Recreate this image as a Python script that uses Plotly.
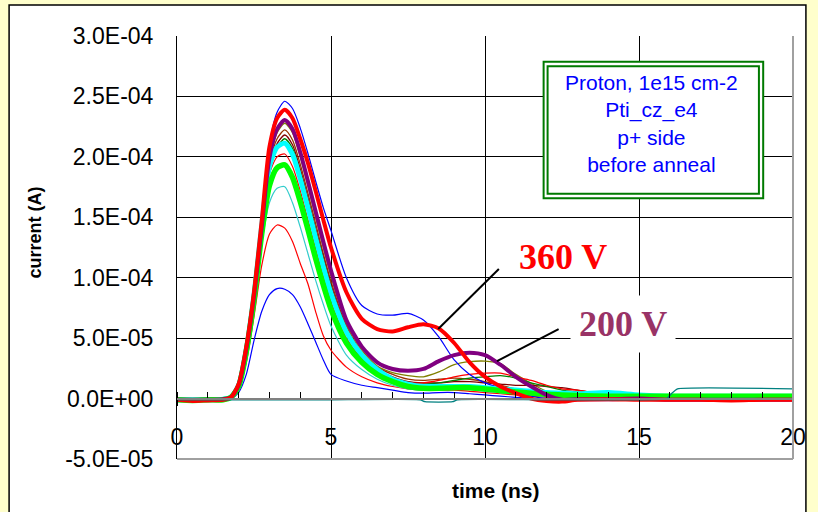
import plotly.graph_objects as go

# Time axis (ns) shared by the pulse traces
T_NS = [0, 0.5, 1, 1.5, 1.75, 2, 2.25, 2.5, 2.75, 3, 3.25, 3.5, 3.75, 4, 4.25, 4.5, 4.75, 5,
        5.5, 6, 6.5, 7, 7.5, 8, 8.5, 9, 9.5, 10, 10.5, 11, 11.5, 12, 12.5, 13,
        14, 15, 16, 17, 18, 19, 20]

# Current pulses in microamperes
I_BLUE_TOP = [-1, -1, -1, -0.5, 1, 12, 43, 90, 150, 210, 237, 246, 240, 224, 203, 180, 158, 139,
              100, 77, 70, 69, 70.5, 65, 51, 32, 20, 13, 9, 5, 2, 0, -1, -1,
              0, 0, 0, 0, 0, 0, 0]
I_360V = [-1, -2, -1.5, -1, 1, 12, 43, 88, 147, 208, 232, 239, 232, 215, 195, 172, 148, 125,
          88, 66, 57.5, 55.5, 59, 61.5, 58, 46, 30, 18, 10, 4.5, 0, -2, -2.5, -1,
          -0.5, -1, -1, -1, -1.5, -1, -1]
I_200V = [-1, -1, -1, -0.5, 1, 11, 41, 85, 142, 199, 223, 230.5, 223, 204, 180, 155, 130, 106,
          65, 43, 30, 24.5, 23, 24.5, 31, 36, 38, 36, 28, 18, 10, 3, -1, -0.5,
          -0.5, 0, -1, -1, -1, -1, -1]
I_OLIVE = [-1, -1, -1, -0.5, 1, 11, 40, 84, 140, 196, 220, 227.8, 220, 200, 176, 150, 125, 101,
           62, 40, 27, 21.5, 19, 18, 22, 28, 30.5, 31, 29, 20, 12.5, 6, 1.5, 0,
           0.5, 0.5, 0, 0, 0, 0, 0]
I_BROWN = [-1, -1, -1, -0.5, 1, 11, 40, 83, 138, 193, 215, 222.3, 214, 194, 170, 145, 120, 97,
           60, 38, 26, 20, 16, 15, 16, 17, 16, 14, 11, 8, 6, 4, 3, 2,
           1, 1, 0.5, 0.5, 0.5, 0.5, 0.5]
I_MAROON = [-1, -1, -1, -0.5, 1, 11, 40, 82, 136, 190, 211, 218.1, 210, 190, 166, 141, 117, 94,
            58, 36, 24, 18, 14, 13, 13, 14, 14, 13, 12, 11, 11, 10, 9, 7,
            3, 1, 0.5, 0.5, 0.5, 0.5, 0.5]
I_DKGREEN = [-1, -1, -1, -0.5, 1, 11, 40, 82, 135, 188, 208, 215, 207, 187, 163, 138, 114, 91,
             56, 35, 23, 17, 13, 12, 13, 15, 17, 18, 19, 17, 13, 10, 7, 5.5,
             3, 2, 2, 2, 2, 2, 2]
I_CYAN_THICK = [-1, -1, -1, -0.5, 1, 11, 41, 86, 143, 192, 208, 211.3, 202, 182, 158, 133, 109, 87,
                55, 36, 24, 16, 12, 10, 10, 10, 10, 9, 8, 7, 6, 5, 4.5, 4,
                5, 3, 2, 2, 2, 2, 2]
I_RED_THIN = [-1, -1, -1, -0.5, 1, 11, 40, 84, 140, 186, 200, 202.4, 192, 172, 148, 124, 101, 80,
              50, 33, 22, 16, 13, 13, 15, 18, 20, 21, 21, 18, 15, 11, 8, 7,
              3, 1, 0, 0, 0, 0, 0]
I_GREEN_THICK = [-1, -1.5, -1, -1, 1, 10, 39, 82, 136, 176, 191, 193.3, 183, 163, 140, 116, 94, 74,
                 46, 30, 20, 14, 10, 8.5, 8.5, 9, 9, 8, 6.5, 5.5, 4.5, 3.5, 3, 2.5,
                 2, 2, 2, 2, 2, 2, 2]
I_CYAN_THIN = [-1, -1, -1, -0.5, 1, 9, 36, 78, 128, 162, 174, 175.3, 162, 142, 120, 98, 78, 60,
               36, 24, 16, 11, 8, 7, 7.5, 8, 7.5, 6, 5, 4, 3, 2, 1.5, 1,
               1, 1, 1, 1, 1, 1, 1]
I_RED_LOW = [-1, -1, -1, -0.5, 0.5, 8, 30, 68, 110, 136, 143.6, 141, 130, 112, 95, 72, 52, 40,
             26, 18, 13, 10, 8, 7, 7, 7, 6, 5, 4, 3, 2, 1, 0.5, 0,
             0, 0, 0, 0, 0, 0, 0]
I_BLUE_LOW = [-1, -1, -1, -0.5, 0, 5, 20, 48, 72, 86, 91, 90.5, 86, 76, 62, 47, 32, 20,
              14.5, 11, 9, 7, 5, 4.5, 5, 5, 4, 3, 2, 1, 0, -1, -1, -1,
              -0.5, 0, 0, 0, 0, 0, 0]

# Near-zero baseline trace with its own sampling
T_TEAL = [0, 2.5, 5, 7.9, 8.05, 8.95, 9.1, 12, 15.9, 16.05, 16.25, 20]
I_TEAL = [-1, -1, -1, -1, -2.6, -2.6, -1, -1, 0, 4, 8, 8]

Y_TICKS = [-5e-5, 0, 5e-5, 1e-4, 1.5e-4, 2e-4, 2.5e-4, 3e-4]
Y_TICK_TEXT = ["-5.0E-05", "0.0E+00", "5.0E-05", "1.0E-04", "1.5E-04", "2.0E-04", "2.5E-04", "3.0E-04"]
X_TICKS = [0, 5, 10, 15, 20]

INFO_LINES = ["Proton, 1e15 cm-2", "Pti_cz_e4", "p+ side", "before anneal"]

UA = 1e-6  # microampere -> ampere

# (values, colour, width) in drawing order
traces = [
    (I_BLUE_LOW, "#0000FF", 1.2),
    (I_RED_LOW, "#FF0000", 1.2),
    (I_CYAN_THIN, "#33CCCC", 1.2),
    (I_OLIVE, "#808000", 1.3),
    (I_BROWN, "#993300", 1.3),
    (I_MAROON, "#800000", 1.3),
    (I_DKGREEN, "#008000", 1.3),
    (I_RED_THIN, "#FF0000", 1.2),
    (I_BLUE_TOP, "#0000FF", 1.2),
    (I_CYAN_THICK, "#00FFFF", 5),
    (I_GREEN_THICK, "#00FF00", 5.5),
    (I_200V, "#800080", 4),
    (I_360V, "#FF0000", 4),
]

fig = go.Figure()
for vals, color, width in traces:
    fig.add_trace(go.Scatter(
        x=T_NS, y=[v * UA for v in vals], mode="lines",
        line=dict(color=color, width=width, shape="spline", smoothing=0.7),
        showlegend=False, hoverinfo="skip"))
fig.add_trace(go.Scatter(
    x=T_TEAL, y=[v * UA for v in I_TEAL], mode="lines",
    line=dict(color="#008080", width=1.3, shape="spline", smoothing=0.4),
    showlegend=False, hoverinfo="skip"))

W, H = 818, 512
ML, MR, MT, MB = 177, 21, 36, 53
PW, PH = W - ML - MR, H - MT - MB


def px_x(p):
    return (p - ML) / PW


def px_y(p):
    return (H - MB - p) / PH


SANS = "Liberation Sans, Arial, sans-serif"
SERIF = "Liberation Serif, Times New Roman, serif"

shapes = [
    # white chart frame on the yellow page
    dict(type="rect", xref="paper", yref="paper", layer="below",
         x0=px_x(8), x1=px_x(810), y0=px_y(516), y1=px_y(5),
         line=dict(color="black", width=1.5), fillcolor="white"),
    # grey plot border, right and bottom
    dict(type="line", xref="paper", yref="paper", layer="above",
         x0=1, x1=1, y0=0, y1=1, line=dict(color="#A0A0A0", width=2)),
    dict(type="line", xref="paper", yref="paper", layer="above",
         x0=0, x1=1, y0=0, y1=0, line=dict(color="#A0A0A0", width=2)),
    # double green frame of the info box
    dict(type="rect", xref="paper", yref="paper", layer="above",
         x0=px_x(546), x1=px_x(767), y0=px_y(198.3), y1=px_y(61.7),
         line=dict(color="#007A00", width=2), fillcolor="white"),
    dict(type="rect", xref="paper", yref="paper", layer="above",
         x0=px_x(550), x1=px_x(762.7), y0=px_y(193.8), y1=px_y(66.3),
         line=dict(color="#007A00", width=2), fillcolor="rgba(0,0,0,0)"),
    # leader lines to the labelled pulses
    dict(type="line", xref="x", yref="y", x0=10.45, y0=1.072e-4, x1=8.48, y1=0.575e-4,
         line=dict(color="black", width=2)),
    dict(type="line", xref="x", yref="y", x0=12.39, y0=0.575e-4, x1=10.39, y1=0.31e-4,
         line=dict(color="black", width=2)),
]

annotations = [
    dict(xref="paper", yref="paper", x=px_x(655), y=px_y(123.5), xanchor="center", yanchor="middle",
         text="<br>".join(INFO_LINES), showarrow=False, align="center",
         font=dict(family=SANS, size=21, color="#0000FF")),
    dict(xref="x", yref="y", x=12.52, y=1.171e-4, text="<b>360 V</b>", showarrow=False,
         font=dict(family=SERIF, size=36, color="#FF0000")),
    dict(xref="x", yref="y", x=14.48, y=0.617e-4, text="<b>200 V</b>", showarrow=False,
         bgcolor="white", borderpad=8,
         font=dict(family=SERIF, size=36, color="#993366")),
    dict(xref="paper", yref="paper", x=px_x(35), y=px_y(232.5), text="<b>current (A)</b>",
         textangle=-90, showarrow=False, xanchor="center", yanchor="middle",
         font=dict(family=SANS, size=18, color="black")),
    dict(xref="paper", yref="paper", x=px_x(498.5), y=px_y(490), text="<b>time (ns)</b>",
         showarrow=False, xanchor="center", yanchor="middle",
         font=dict(family=SANS, size=21, color="black")),
]

fig.update_layout(
    width=W, height=H, autosize=False,
    margin=dict(l=ML, r=MR, t=MT, b=MB, pad=0),
    paper_bgcolor="#FFFFCC", plot_bgcolor="white",
    shapes=shapes, annotations=annotations, showlegend=False,
    xaxis=dict(
        range=[0, 20], anchor="free", position=1 / 7,
        showline=True, linecolor="#808080", linewidth=2,
        tickvals=X_TICKS, ticktext=[str(v) for v in X_TICKS],
        ticks="outside", ticklen=6, tickcolor="black", tickwidth=1,
        minor=dict(dtick=1, tick0=0, ticks="inside", ticklen=6, tickcolor="black", showgrid=False),
        showgrid=True, gridcolor="black", gridwidth=1, zeroline=False,
        tickfont=dict(family=SANS, size=23, color="black"), ticklabelstandoff=12,
    ),
    yaxis=dict(
        range=[-5e-5, 3e-4], tickvals=Y_TICKS, ticktext=Y_TICK_TEXT,
        showline=True, linecolor="black", linewidth=1, ticks="",
        showgrid=True, gridcolor="black", gridwidth=1, zeroline=False,
        tickfont=dict(family=SANS, size=23, color="black"), ticklabelstandoff=18,
    ),
)

fig.write_html("out.html", config={"displayModeBar": False})
